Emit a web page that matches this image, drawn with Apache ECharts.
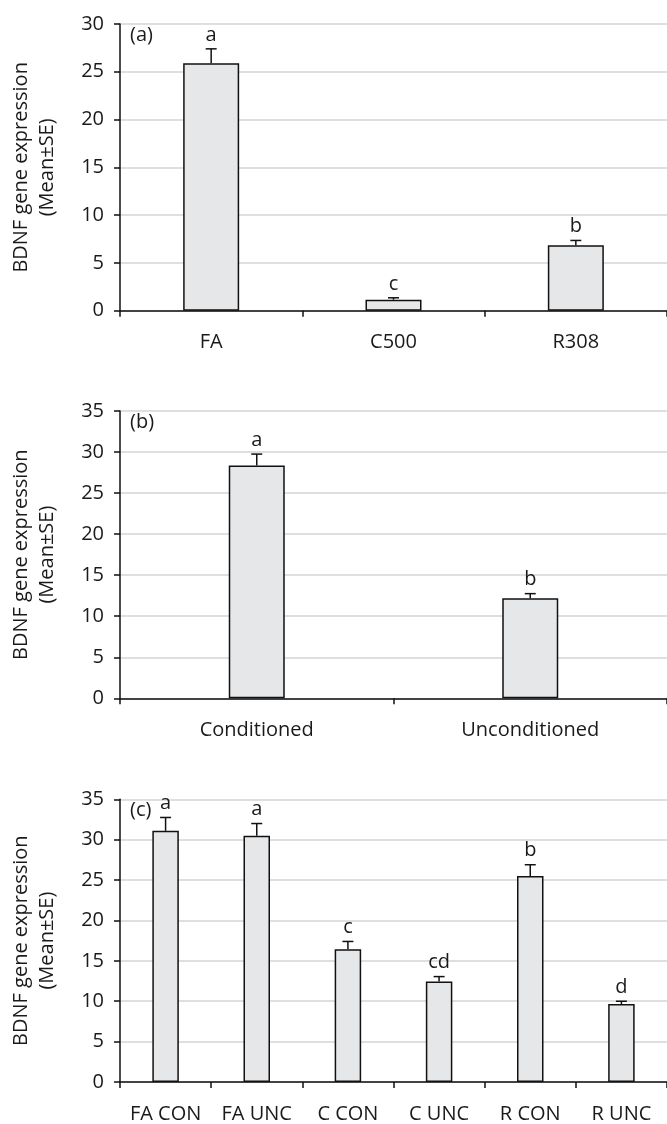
<!DOCTYPE html>
<html>
<head>
<meta charset="utf-8">
<script src="https://cdn.jsdelivr.net/npm/echarts@6/dist/echarts.min.js"></script>
<style>
html,body{margin:0;padding:0;background:#fff;}
#chart{width:667px;height:1124px;}
</style>
</head>
<body>
<div id="chart"></div>
<script>
// ---- Data ----
const catsA = ['FA', 'C500', 'R308'];
const meanA = [25.9, 1.15, 6.85];
const seA = [1.5, 0.2, 0.5];
const letA = ['a', 'c', 'b'];

const catsB = ['Conditioned', 'Unconditioned'];
const meanB = [28.35, 12.2];
const seB = [1.4, 0.55];
const letB = ['a', 'b'];

const catsC = ['FA CON', 'FA UNC', 'C CON', 'C UNC', 'R CON', 'R UNC'];
const meanC = [31.1, 30.5, 16.45, 12.45, 25.5, 9.65];
const seC = [1.65, 1.5, 0.95, 0.6, 1.4, 0.35];
const letC = ['a', 'a', 'c', 'cd', 'b', 'd'];

const yTitle = 'BDNF gene expression\n(Mean±SE)';
const panelLabels = ['(a)', '(b)', '(c)'];

// ---- Styling ----
const FONT = '"Open Sans", "Noto Sans", sans-serif';
const TXT = '#1a1a1a';

const panels = [
  {cats: catsA, mean: meanA, se: seA, lets: letA, top: 24, height: 286.7, max: 30, barW: 56},
  {cats: catsB, mean: meanB, se: seB, lets: letB, top: 411, height: 287.3, max: 35, barW: 56},
  {cats: catsC, mean: meanC, se: seC, lets: letC, top: 799.3, height: 286.4, max: 35, barW: 26.5}
];

const grids = [], xAxes = [], yAxes = [], series = [], graphics = [];

panels.forEach((p, i) => {
  grids.push({left: 119.5, width: 556.5, top: p.top, height: p.height});
  xAxes.push({
    type: 'category', gridIndex: i, data: p.cats, boundaryGap: true,
    axisLine: {lineStyle: {color: '#111', width: 1.5}},
    axisTick: {show: true, alignWithLabel: false, length: 6, lineStyle: {color: '#111', width: 1.5}},
    axisLabel: {color: TXT, fontSize: 20, fontFamily: FONT, margin: 22, interval: 0},
    splitLine: {show: false}
  });
  yAxes.push({
    type: 'value', gridIndex: i, min: 0, max: p.max, interval: 5,
    name: yTitle, nameLocation: 'middle', nameGap: 60, nameRotate: 90,
    nameTextStyle: {color: TXT, fontSize: 20, fontFamily: FONT, lineHeight: 26, align: 'center'},
    axisLine: {show: true, lineStyle: {color: '#111', width: 1.5}},
    axisTick: {show: true, length: 6, lineStyle: {color: '#111', width: 1.5}},
    axisLabel: {color: TXT, fontSize: 20, fontFamily: FONT, margin: 16},
    splitLine: {show: true, lineStyle: {color: '#d4d4d4', width: 1.5}}
  });
  series.push({
    type: 'bar', xAxisIndex: i, yAxisIndex: i, data: p.mean, barWidth: p.barW,
    itemStyle: {color: '#e6e7e9', borderColor: '#111', borderWidth: 1.5},
    z: 3
  });
  series.push({
    type: 'custom', xAxisIndex: i, yAxisIndex: i,
    data: p.mean.map((m, k) => [k, m, p.se[k]]),
    z: 4,
    renderItem: (params, api) => {
      const k = api.value(0), m = api.value(1), s = api.value(2);
      const base = api.coord([k, m]);
      const top = api.coord([k, m + s]);
      const cap = 5.5;
      return {
        type: 'group',
        children: [
          {type: 'line', shape: {x1: base[0], y1: base[1], x2: top[0], y2: top[1]},
           style: {stroke: '#111', lineWidth: 1.5}},
          {type: 'line', shape: {x1: top[0] - cap, y1: top[1], x2: top[0] + cap, y2: top[1]},
           style: {stroke: '#111', lineWidth: 1.5}},
          {type: 'text', style: {text: p.lets[params.dataIndex], x: top[0], y: top[1] - 4,
           align: 'center', verticalAlign: 'bottom', fontSize: 20, fontFamily: FONT, fill: TXT}}
        ]
      };
    }
  });
  graphics.push({
    type: 'text', left: 130, top: p.top + 1,
    style: {text: panelLabels[i], fontSize: 20, fontFamily: FONT, fill: TXT}
  });
});

const chart = echarts.init(document.getElementById('chart'), null, {renderer: 'canvas'});
chart.setOption({
  animation: false,
  backgroundColor: '#fff',
  grid: grids, xAxis: xAxes, yAxis: yAxes, series: series, graphic: graphics
});
</script>
</body>
</html>
